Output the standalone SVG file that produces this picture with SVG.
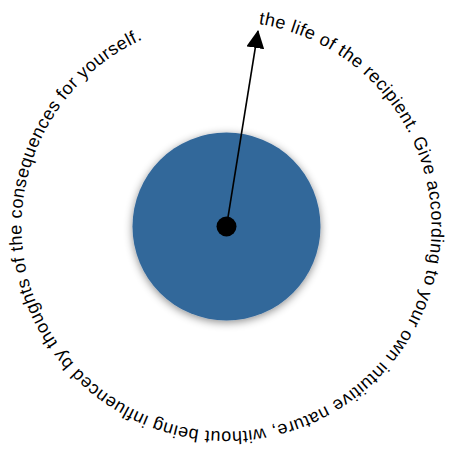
<svg xmlns="http://www.w3.org/2000/svg" width="450" height="452" viewBox="0 0 450 452">
  <style>
    .ring { font-family: "Liberation Sans", Arial, sans-serif; font-size: 18px; letter-spacing: 0.5px; fill: #000; }
  </style>
  <defs>
    <filter id="shadow" x="-20%" y="-20%" width="140%" height="140%">
      <feDropShadow dx="0" dy="2" stdDeviation="4" flood-color="#000" flood-opacity="0.45"/>
    </filter>
    <marker id="arrowhead" viewBox="0 0 18 18" refX="17" refY="9" markerWidth="18" markerHeight="18" markerUnits="userSpaceOnUse" orient="auto">
      <path d="M0,0 L18,9 L0,18 Z" fill="#000"/>
    </marker>
    <path id="textCircle" d="M258.6,24 A205,205 0 1,1 194.4,429 A205,205 0 1,1 258.6,24"/>
  </defs>
  <g id="disc">
    <circle cx="226.5" cy="226.5" r="94" fill="#33679a" filter="url(#shadow)"/>
  </g>
  <g id="connectors">
    <line x1="226.5" y1="226.5" x2="258" y2="31" stroke="#000" stroke-width="1.6" marker-end="url(#arrowhead)"/>
  </g>
  <g id="center-dot">
    <circle cx="226.5" cy="226.5" r="10" fill="#000"/>
  </g>
  <g id="ring-text">
    <text class="ring"><textPath href="#textCircle">the life of the recipient. Give according to your own intuitive nature, without being influenced by thoughts of the consequences for yourself.</textPath></text>
  </g>
</svg>
